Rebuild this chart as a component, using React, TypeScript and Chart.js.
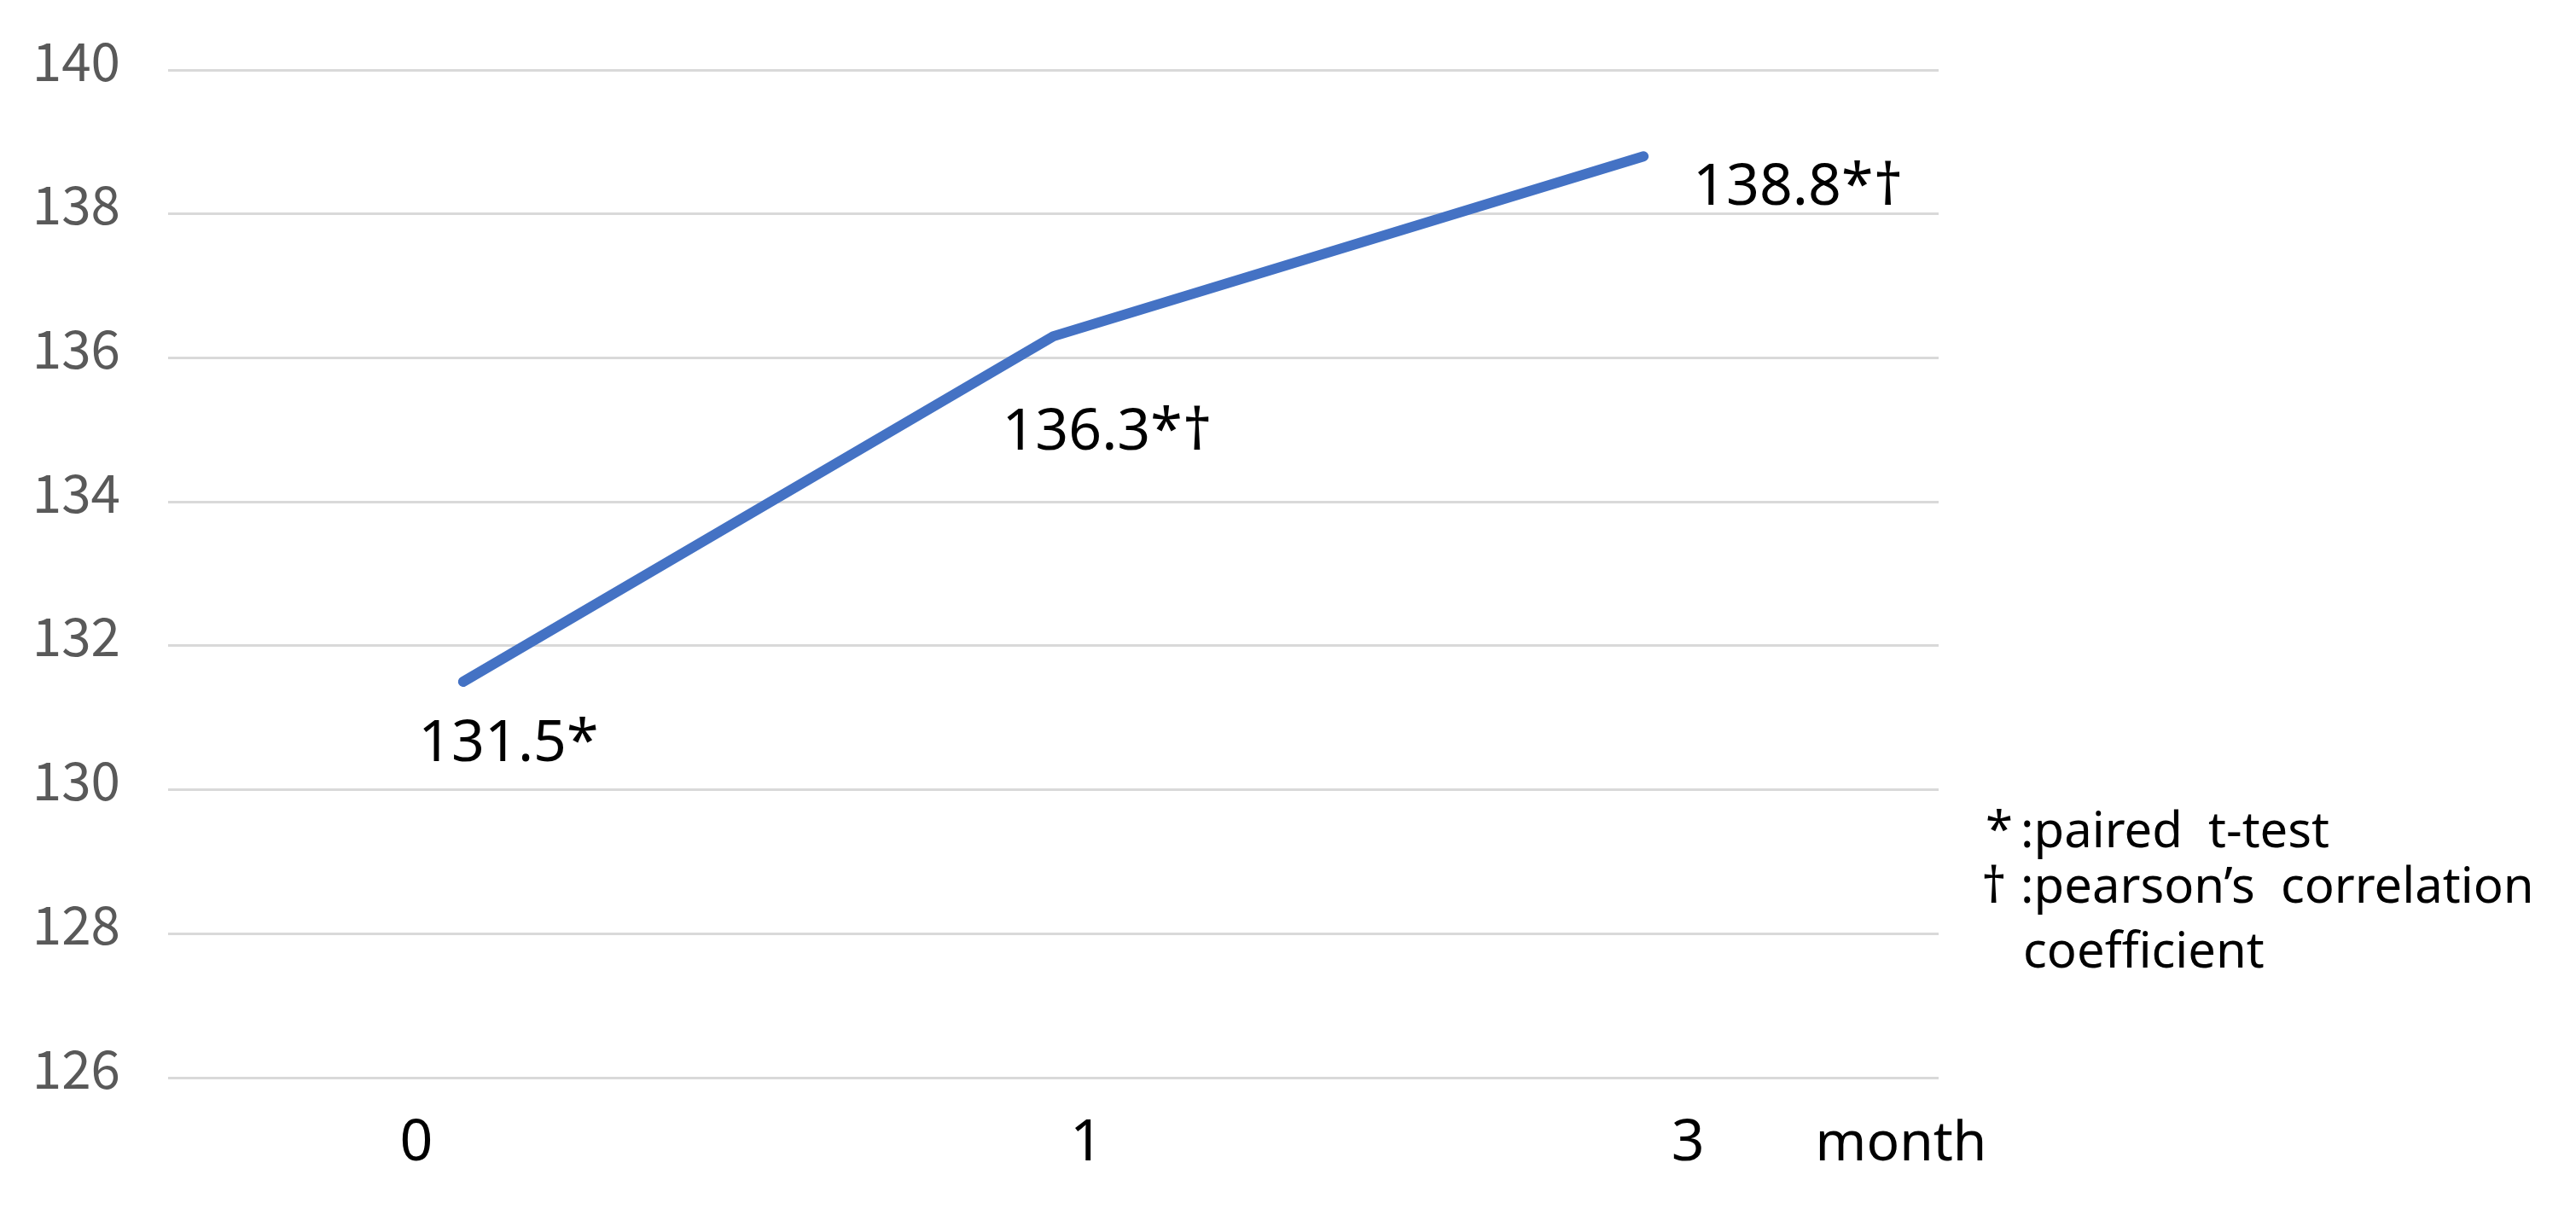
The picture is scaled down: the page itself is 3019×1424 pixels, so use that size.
import React, { useEffect, useRef } from "react";
import { Chart, registerables } from "chart.js";

Chart.register(...registerables);

// ---- data ----
const months = ["0", "1", "3"];
const values = [131.5, 136.3, 138.8];
const pointLabels = ["131.5*", "136.3*†", "138.8*†"];
const yMin = 126;
const yMax = 140;
const yStep = 2;
const xTitle = "month";
const noteMarks = ["*", "†", ""];
const noteTexts = [":paired  t-test", ":pearson’s  correlation", "coefficient"];

// ---- layout / style constants ----
const W = 3019;
const H = 1424;
const LABEL_DX = [53, 63, 181];
const LABEL_DY = [93, 133, 57];
const XLAB_DX = [-55, 39, 52];
const XLAB_BASE = 1360;
const XTITLE_CX = 2228;
const NOTE_MARK_X = [2327, 2322, 2322];
const NOTE_TEXT_X = [2368, 2368, 2371];
const NOTE_BASE = [993, 1058, 1134];

const annotate = {
  id: "annotate",
  afterDatasetsDraw(chart: any) {
    const ctx = chart.ctx;
    const meta = chart.getDatasetMeta(0);
    const xs = chart.scales.x;
    ctx.save();
    ctx.fillStyle = "#000000";
    ctx.textBaseline = "alphabetic";
    ctx.font = "68px 'Noto Sans'";
    ctx.textAlign = "center";
    meta.data.forEach((pt: any, i: number) => {
      ctx.fillText(pointLabels[i], pt.x + LABEL_DX[i], pt.y + LABEL_DY[i]);
    });
    months.forEach((m, i) => {
      ctx.fillText(m, xs.getPixelForValue(i) + XLAB_DX[i], XLAB_BASE);
    });
    ctx.font = "64px 'Noto Sans'";
    ctx.fillText(xTitle, XTITLE_CX, XLAB_BASE);
    ctx.font = "58px 'Noto Sans'";
    ctx.textAlign = "left";
    noteTexts.forEach((t, i) => {
      if (noteMarks[i]) ctx.fillText(noteMarks[i], NOTE_MARK_X[i], NOTE_BASE[i]);
      ctx.fillText(t, NOTE_TEXT_X[i], NOTE_BASE[i]);
    });
    ctx.restore();
  },
};

export default function App() {
  const ref = useRef<HTMLCanvasElement | null>(null);
  useEffect(() => {
    if (!ref.current) return;
    const chart = new Chart(ref.current, {
      type: "line",
      data: {
        labels: months,
        datasets: [
          {
            data: values,
            borderColor: "#4472C4",
            borderWidth: 12,
            borderCapStyle: "round",
            borderJoinStyle: "round",
            pointRadius: 0,
            tension: 0,
            fill: false,
          },
        ],
      },
      options: {
        animation: false,
        responsive: false,
        devicePixelRatio: 1,
        layout: { padding: { left: 0, right: 747, top: 82, bottom: 0 } },
        plugins: { legend: { display: false }, tooltip: { enabled: false } },
        scales: {
          x: {
            type: "category",
            offset: true,
            grid: { display: false },
            border: { display: false },
            ticks: { display: false },
            afterFit: (s: any) => {
              s.height = 161;
              s.paddingLeft = 0;
              s.paddingRight = 0;
            },
          },
          y: {
            min: yMin,
            max: yMax,
            ticks: {
              stepSize: yStep,
              color: "#595959",
              font: { family: "'Noto Sans CJK JP'", size: 62 },
              padding: 56,
              labelOffset: -11,
            },
            grid: { color: "#D9D9D9", lineWidth: 3, drawTicks: false },
            border: { display: false },
            afterFit: (s: any) => {
              s.width = 197;
              s.paddingTop = 0;
              s.paddingBottom = 0;
            },
          },
        },
      },
      plugins: [annotate],
    });
    return () => chart.destroy();
  }, []);
  return (
    <div style={{ position: "absolute", left: 0, top: 0, width: W, height: H, background: "#fff" }}>
      <canvas ref={ref} width={W} height={H} style={{ width: W, height: H, display: "block" }} />
    </div>
  );
}
